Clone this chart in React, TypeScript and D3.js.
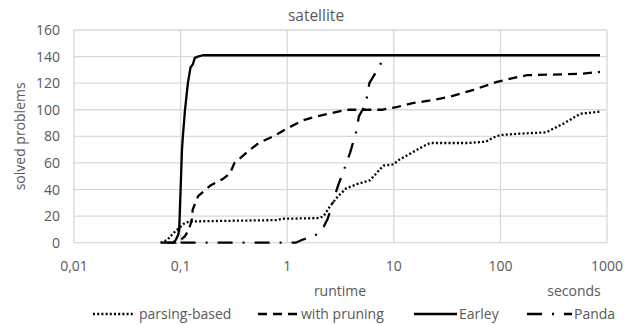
import React from "react";
import * as d3 from "d3";

const title = "satellite";
const yTicks = [0, 20, 40, 60, 80, 100, 120, 140, 160];
const xTicks = [0.01, 0.1, 1, 10, 100, 1000];
const xTickLabels = ["0,01", "0,1", "1", "10", "100", "1000"];

// [runtime in seconds, solved problems]
const parsingBased = [
  [0.065, 0], [0.075, 2], [0.085, 7], [0.1, 12], [0.11, 15], [0.125, 16],
  [0.3, 16.5], [0.8, 17], [0.9, 18], [2, 18.5], [2.2, 20], [2.5, 27],
  [3, 35], [3.6, 41], [4.5, 44], [6, 47], [7, 53], [8, 58], [10, 59],
  [11, 62], [15, 68], [20, 73.5], [22, 75], [50, 75], [73, 76], [85, 79],
  [100, 81], [150, 82], [270, 83], [300, 85], [400, 90], [560, 97], [850, 98.5],
];
const withPruning = [
  [0.075, 0], [0.09, 0], [0.1, 2], [0.11, 5], [0.12, 10], [0.127, 17],
  [0.13, 25], [0.146, 35], [0.19, 43], [0.25, 48], [0.29, 52], [0.32, 60],
  [0.42, 68], [0.54, 75], [0.74, 80], [1.0, 86], [1.06, 87], [1.4, 92],
  [1.9, 95], [3.6, 100], [7.7, 100], [10.6, 102], [15, 105], [22, 107],
  [34, 110], [56, 115], [93, 121], [134, 124], [178, 126], [566, 127], [860, 128.5],
];
const earley = [
  [0.065, 0], [0.085, 0], [0.09, 2], [0.095, 6], [0.097, 10], [0.1, 40],
  [0.103, 70], [0.105, 80], [0.11, 100], [0.117, 120], [0.124, 132],
  [0.13, 134], [0.136, 139], [0.145, 140], [0.162, 141], [860, 141],
];
const panda = [
  [0.1, 0], [1.2, 0], [1.37, 2], [1.6, 4], [1.8, 5], [2.0, 8], [2.2, 12],
  [2.4, 18], [2.6, 27], [3.0, 43], [3.35, 53], [3.9, 68], [4.5, 85],
  [4.7, 95], [5.1, 100], [5.5, 106], [5.9, 120], [7.0, 130], [7.7, 136], [8.0, 138],
];

const seriesNames = ["parsing-based", "with pruning", "Earley", "Panda"];

export default function App() {
  const width = 634,
    height = 325;
  const font = "'Open Sans', sans-serif";
  const textColor = "#595959";
  const gridColor = "#d9d9d9";
  const fs = 14;

  const x = d3.scaleLog().domain([0.01, 1000]).range([74, 607]);
  const y = d3.scaleLinear().domain([0, 160]).range([242.7, 30]);

  const line = d3
    .line<number[]>()
    .x((d) => x(d[0]))
    .y((d) => y(d[1]));

  const series = [
    { name: seriesNames[0], data: parsingBased, dash: "2,2.2" },
    { name: seriesNames[1], data: withPruning, dash: "9,6" },
    { name: seriesNames[2], data: earley, dash: "none" },
    { name: seriesNames[3], data: panda, dash: "15,10,2,10" },
  ];

  // legend layout: sample line start, end, text start
  const legendPos = [
    [93, 135, 139],
    [258, 300, 301],
    [414, 457, 459],
    [527, 572, 574],
  ];
  const legendY = 314;

  return (
    <svg
      width={width}
      height={height}
      style={{ position: "absolute", left: 0, top: 0, background: "#fff" }}
      fontFamily={font}
    >
      <text x={316} y={21} textAnchor="middle" fontSize={15.5} fill={textColor}>
        {title}
      </text>

      {/* gridlines */}
      <g>
        {yTicks.map((t) => (
          <line
            key={"gy" + t}
            x1={x(0.01)}
            x2={x(1000)}
            y1={y(t)}
            y2={y(t)}
            stroke={gridColor}
            strokeWidth={1.3}
          />
        ))}
        {xTicks.map((t) => (
          <line
            key={"gx" + t}
            x1={x(t)}
            x2={x(t)}
            y1={y(0)}
            y2={y(160)}
            stroke={gridColor}
            strokeWidth={1.3}
          />
        ))}
      </g>

      {/* tick labels */}
      <g fontSize={fs} fill={textColor}>
        {yTicks.map((t) => (
          <text key={"ty" + t} x={60} y={y(t) + 5} textAnchor="end">
            {t}
          </text>
        ))}
        {xTicks.map((t, i) => (
          <text key={"tx" + t} x={x(t)} y={271} textAnchor="middle">
            {xTickLabels[i]}
          </text>
        ))}
      </g>

      <text
        transform={`translate(25,${(y(0) + y(160)) / 2}) rotate(-90)`}
        textAnchor="middle"
        fontSize={fs}
        fill={textColor}
      >
        solved problems
      </text>
      <text x={340} y={296} textAnchor="middle" fontSize={fs} fill={textColor}>
        runtime
      </text>
      <text x={574} y={296} textAnchor="middle" fontSize={fs} fill={textColor}>
        seconds
      </text>

      {/* series */}
      <g fill="none" stroke="#000">
        {series.map((s) => (
          <path
            key={s.name}
            d={line(s.data) || ""}
            strokeWidth={2.3}
            strokeDasharray={s.dash}
            strokeLinejoin="round"
          />
        ))}
      </g>

      {/* legend */}
      <g fontSize={fs} fill={textColor}>
        {series.map((s, i) => (
          <g key={"lg" + s.name}>
            <line
              x1={legendPos[i][0]}
              x2={legendPos[i][1]}
              y1={legendY}
              y2={legendY}
              stroke="#000"
              strokeWidth={2.3}
              strokeDasharray={s.dash}
            />
            <text x={legendPos[i][2]} y={legendY + 5}>
              {s.name}
            </text>
          </g>
        ))}
      </g>
    </svg>
  );
}
